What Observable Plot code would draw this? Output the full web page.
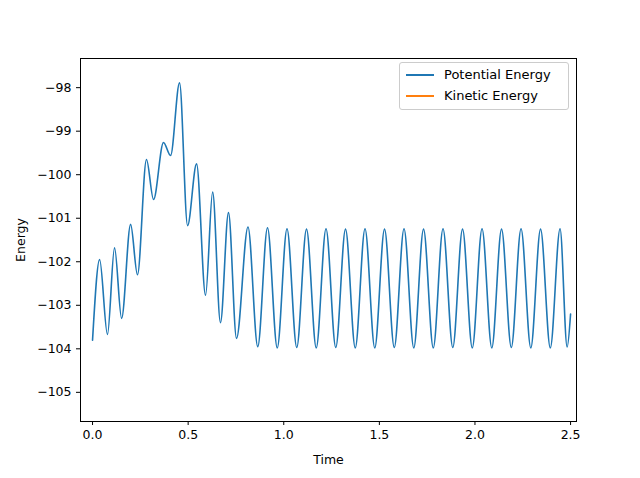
<!DOCTYPE html>
<html><head>
<meta charset="utf-8">
<script src="https://cdn.jsdelivr.net/npm/d3@7"></script>
<script src="https://cdn.jsdelivr.net/npm/@observablehq/plot@0.6"></script>
<style>
body{margin:0;background:#fff;font-family:"DejaVu Sans",sans-serif;}
#wrap{position:relative;width:640px;height:478px;}
#legend{position:absolute;left:399px;top:62px;width:168px;height:46px;border:1px solid #ccc;border-radius:3px;background:#fff;font-size:13px;}
.row{position:absolute;left:6px;display:flex;align-items:center;}
.sw{width:28px;height:2px;margin-right:10px;}
</style>
</head><body>
<div id="wrap"><div id="chart"></div>
<div id="legend">
<div class="row" style="top:4px"><div class="sw" style="background:#1f77b4"></div>Potential Energy</div>
<div class="row" style="top:25px"><div class="sw" style="background:#ff7f0e"></div>Kinetic Energy</div>
</div></div>
<script>
const times = [0,0.037,0.078,0.115,0.152,0.199,0.235,0.282,0.319,0.371,0.408,0.455,0.497,0.544,0.591,0.628,0.669,0.711,0.753,
0.813,0.864,0.915,0.966,1.017,1.068,1.119,1.170,1.221,1.272,1.323,1.374,1.425,1.476,1.527,1.578,1.629,1.680,1.731,1.782,1.833,1.884,1.935,1.986,2.037,2.088,2.139,2.190,2.241,2.292,2.343,2.394,2.445,2.482,2.5];
const potential = [-103.8,-101.95,-103.67,-101.68,-103.3,-101.14,-102.3,-99.65,-100.57,-99.26,-99.56,-97.89,-101.17,-99.75,-102.77,-100.4,-103.4,-100.87,-103.76,
-101.2,-103.95,-101.22,-103.98,-101.24,-103.97,-101.25,-103.98,-101.24,-103.97,-101.25,-103.98,-101.24,-103.98,-101.25,-103.97,-101.24,-103.98,-101.25,-103.98,-101.24,-103.97,-101.25,-103.98,-101.24,-103.98,-101.25,-103.97,-101.24,-103.98,-101.25,-103.98,-101.24,-103.96,-103.2];
const data = times.map((t,i)=>({t, e: potential[i]}));
const xTicks=[0,0.5,1.0,1.5,2.0,2.5];
const yTicks=[-98,-99,-100,-101,-102,-103,-104,-105];
const chart = Plot.plot({
  width:640,height:478,marginLeft:80,marginRight:64,marginTop:58,marginBottom:57,
  style:{fontFamily:"DejaVu Sans",fontSize:"12.5px",color:"#000"},
  x:{domain:[-0.063,2.531],ticks:xTicks,tickFormat:d=>d.toFixed(1),label:"Time",labelAnchor:"center",labelArrow:"none",labelOffset:42,tickSize:4},
  y:{domain:[-105.67,-97.33],ticks:yTicks,tickFormat:d=>"\u2212"+Math.abs(d),label:"Energy",labelAnchor:"center",labelArrow:"none",labelOffset:64,tickSize:4},
  marks:[
    Plot.frame({stroke:"#000"}),
    Plot.line(data,{x:"t",y:"e",stroke:"#1f77b4",strokeWidth:1.6,curve:"monotone-x"})
  ]
});
document.getElementById("chart").appendChild(chart);
</script>
</body></html>
